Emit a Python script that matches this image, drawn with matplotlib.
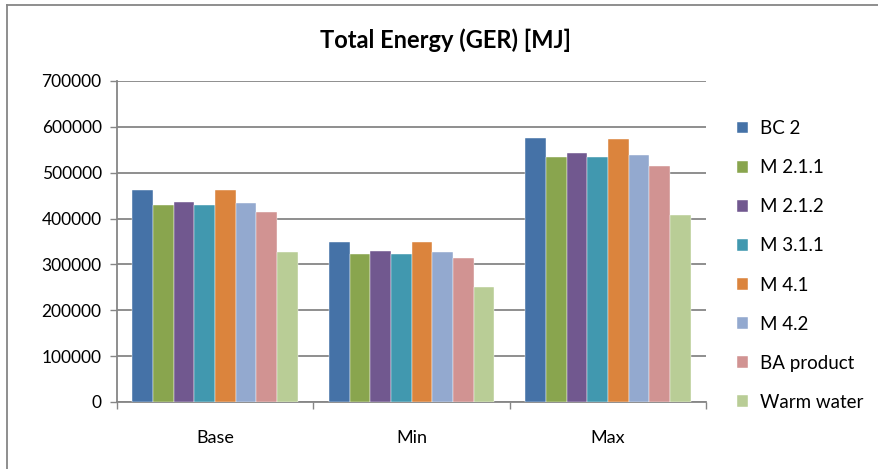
import numpy as np
import matplotlib
matplotlib.use('Agg')
from matplotlib import pyplot as plt
from matplotlib.lines import Line2D

plt.rcParams['font.family'] = ['Lato', 'DejaVu Sans']

categories = ['Base', 'Min', 'Max']
series_names = ['BC 2', 'M 2.1.1', 'M 2.1.2', 'M 3.1.1', 'M 4.1', 'M 4.2',
                'BA product', 'Warm water']
bc2 = [461500, 348000, 576500]
m211 = [430000, 322500, 535000]
m212 = [437000, 330000, 542000]
m311 = [430000, 322000, 535000]
m41 = [461500, 348000, 573000]
m42 = [433000, 326000, 539000]
ba_product = [415000, 313000, 514000]
warm_water = [326000, 250000, 408000]
colors = ['#4572A7', '#89A54E', '#71588F', '#4198AF', '#DB843D', '#93A9CF',
          '#D19392', '#B9CD96']

series = [bc2, m211, m212, m311, m41, m42, ba_product, warm_water]

fig = plt.figure(figsize=(8.79, 4.69), dpi=100)
ax = fig.add_axes([0.1331, 0.1429, 0.6701, 0.6844])

n = len(series)
width = 1.0 / (n + 1.5)
x = np.arange(len(categories))
for i, (vals, name, c) in enumerate(zip(series, series_names, colors)):
    offs = (i - (n - 1) / 2) * width
    ax.bar(x + offs, vals, width, color=c, label=name, zorder=3,
           edgecolor='white', linewidth=0.3)

ax.set_xlim(-0.5, len(categories) - 0.5)
ax.set_ylim(0, 700000)
ax.set_yticks(np.arange(0, 700001, 100000))
ax.set_yticklabels([str(v) for v in range(0, 700001, 100000)])
ax.yaxis.grid(True, color='#868686', linewidth=1.3, zorder=0)
ax.set_xticks(x)
ax.set_xticklabels(categories)
ax.set_xticks(np.arange(-0.5, len(categories), 1.0), minor=True)
ax.tick_params(axis='x', which='major', length=0, pad=20, labelsize=13)
ax.tick_params(axis='x', which='minor', length=5, color='#868686', width=1)
ax.tick_params(axis='y', length=5, color='#868686', width=1, labelsize=12.5, pad=6)
for side in ['top', 'right']:
    ax.spines[side].set_visible(False)
for side in ['left', 'bottom']:
    ax.spines[side].set_color('#868686')
    ax.spines[side].set_linewidth(1.3)

fig.text(0.507, 0.915, 'Total Energy (GER) [MJ]', fontsize=17, fontweight='bold',
         ha='center', va='center')

ax.legend(loc='center left', bbox_to_anchor=(1.053, 0.425), frameon=False,
          fontsize=13.5, handlelength=0.6, handleheight=0.6, borderpad=0,
          borderaxespad=0, labelspacing=1.18, handletextpad=0.6)

# chart border, only top and left edges are inside the picture
fig.add_artist(Line2D([0.0075, 0.0075], [0.0, 0.989], transform=fig.transFigure,
                      color='#868686', linewidth=1.3))
fig.add_artist(Line2D([0.0075, 1.0], [0.989, 0.989], transform=fig.transFigure,
                      color='#868686', linewidth=1.3))

fig.savefig('out.png', dpi=100)
